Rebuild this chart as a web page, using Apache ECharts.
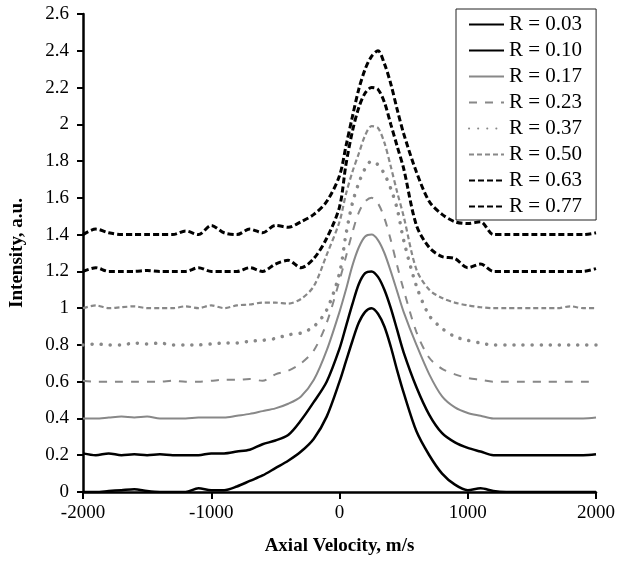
<!DOCTYPE html>
<html>
<head>
<meta charset="utf-8">
<script src="https://cdn.jsdelivr.net/npm/echarts@6/dist/echarts.min.js"></script>
<style>
  html, body { margin: 0; padding: 0; background: #fff; }
  #chart { width: 618px; height: 561px; }
</style>
</head>
<body>
<div id="chart"></div>
<script>
// axial velocity samples, m/s
const velocity = [-2000, -1900, -1800, -1700, -1600, -1500, -1400, -1300, -1200, -1100,
  -1000, -900, -800, -700, -600, -500, -400, -300, -200, -100,
  0, 50, 100, 150, 200, 250, 300, 350, 400, 450,
  500, 600, 700, 800, 900, 1000, 1100, 1200, 1300, 1400,
  1500, 1600, 1700, 1800, 1900, 2000];

const seriesNames = ["R = 0.03", "R = 0.10", "R = 0.17", "R = 0.23", "R = 0.37", "R = 0.50", "R = 0.63", "R = 0.77"];

// intensity, a.u.
const r003 = [0.00, 0.00, 0.005, 0.01, 0.015, 0.005, 0.00, 0.00, 0.00, 0.02,
  0.01, 0.01, 0.03, 0.06, 0.09, 0.13, 0.17, 0.22, 0.29, 0.41,
  0.60, 0.71, 0.82, 0.92, 0.98, 1.00, 0.97, 0.90, 0.79, 0.66,
  0.54, 0.33, 0.20, 0.10, 0.04, 0.01, 0.02, 0.005, 0.00, 0.00,
  0.00, 0.00, 0.00, 0.00, 0.00, 0.00];
const r010 = [0.21, 0.20, 0.21, 0.20, 0.205, 0.20, 0.205, 0.20, 0.20, 0.20,
  0.21, 0.21, 0.22, 0.23, 0.26, 0.28, 0.31, 0.39, 0.49, 0.60,
  0.78, 0.90, 1.02, 1.13, 1.19, 1.20, 1.17, 1.10, 1.00, 0.88,
  0.76, 0.57, 0.42, 0.32, 0.27, 0.24, 0.22, 0.20, 0.20, 0.20,
  0.20, 0.20, 0.20, 0.20, 0.20, 0.205];
const r017 = [0.40, 0.40, 0.405, 0.41, 0.405, 0.41, 0.40, 0.40, 0.40, 0.405,
  0.405, 0.405, 0.415, 0.425, 0.44, 0.455, 0.48, 0.52, 0.61, 0.77,
  0.98, 1.10, 1.23, 1.33, 1.39, 1.40, 1.37, 1.30, 1.20, 1.09,
  0.98, 0.80, 0.64, 0.52, 0.46, 0.43, 0.415, 0.40, 0.40, 0.40,
  0.40, 0.40, 0.40, 0.40, 0.40, 0.405];
const r023 = [0.605, 0.60, 0.60, 0.60, 0.60, 0.60, 0.60, 0.605, 0.60, 0.60,
  0.605, 0.61, 0.61, 0.615, 0.605, 0.64, 0.66, 0.70, 0.77, 0.92,
  1.15, 1.28, 1.41, 1.52, 1.58, 1.60, 1.57, 1.49, 1.37, 1.23,
  1.10, 0.87, 0.73, 0.67, 0.64, 0.62, 0.61, 0.60, 0.60, 0.60,
  0.60, 0.60, 0.60, 0.60, 0.60, 0.60];
const r037 = [0.80, 0.805, 0.80, 0.80, 0.81, 0.805, 0.81, 0.80, 0.80, 0.80,
  0.805, 0.81, 0.81, 0.82, 0.825, 0.835, 0.855, 0.865, 0.90, 0.99,
  1.19, 1.40, 1.57, 1.68, 1.76, 1.80, 1.78, 1.73, 1.65, 1.54,
  1.37, 1.12, 0.96, 0.89, 0.845, 0.825, 0.81, 0.80, 0.80, 0.80,
  0.80, 0.80, 0.80, 0.80, 0.80, 0.80];
const r050 = [1.00, 1.015, 1.00, 1.005, 1.01, 1.00, 1.00, 1.00, 1.01, 1.00,
  1.015, 1.00, 1.015, 1.02, 1.03, 1.03, 1.025, 1.05, 1.12, 1.29,
  1.47, 1.62, 1.74, 1.84, 1.94, 1.99, 1.98, 1.90, 1.77, 1.63,
  1.50, 1.21, 1.10, 1.055, 1.03, 1.015, 1.005, 1.00, 1.00, 1.00,
  1.00, 1.00, 1.00, 1.01, 1.00, 1.00];
const r063 = [1.20, 1.22, 1.20, 1.20, 1.20, 1.205, 1.20, 1.20, 1.20, 1.22,
  1.20, 1.20, 1.20, 1.22, 1.20, 1.24, 1.26, 1.22, 1.27, 1.38,
  1.55, 1.78, 1.96, 2.09, 2.17, 2.20, 2.19, 2.12, 2.00, 1.88,
  1.76, 1.45, 1.33, 1.28, 1.27, 1.22, 1.24, 1.20, 1.20, 1.20,
  1.20, 1.20, 1.20, 1.20, 1.20, 1.215];
const r077 = [1.40, 1.43, 1.41, 1.40, 1.40, 1.40, 1.40, 1.40, 1.42, 1.40,
  1.45, 1.41, 1.40, 1.43, 1.41, 1.45, 1.44, 1.47, 1.51, 1.58,
  1.72, 1.88, 2.04, 2.19, 2.30, 2.37, 2.40, 2.33, 2.22, 2.08,
  1.95, 1.74, 1.58, 1.51, 1.47, 1.46, 1.47, 1.40, 1.40, 1.40,
  1.40, 1.40, 1.40, 1.40, 1.40, 1.41];

const intensities = [r003, r010, r017, r023, r037, r050, r063, r077];

const GRAY = "#888888";
const lineStyles = [
  { color: "#000", width: 2.5, type: "solid" },
  { color: "#000", width: 2.5, type: "solid" },
  { color: GRAY, width: 2, type: "solid" },
  { color: GRAY, width: 2, type: [8, 8] },
  { color: GRAY, width: 3.5, type: [0.1, 9], cap: "round" },
  { color: GRAY, width: 2.2, type: [5, 3] },
  { color: "#000", width: 3, type: [6, 3] },
  { color: "#000", width: 3, type: [6, 3] }
];

const FONT = "'Liberation Serif', 'Times New Roman', serif";

const chart = echarts.init(document.getElementById("chart"));

chart.setOption({
  animation: false,
  grid: { left: 82, right: 21, top: 14, bottom: 67 },
  legend: {
    orient: "vertical",
    left: 456,
    top: 9,
    padding: [5, 14, 3, 12],
    itemWidth: 35,
    itemHeight: 14,
    itemGap: 5,
    itemStyle: { opacity: 0 },
    backgroundColor: "#fff",
    borderColor: "#222",
    borderWidth: 1,
    textStyle: { fontFamily: FONT, fontSize: 21, color: "#000", lineHeight: 19 },
    data: seriesNames
  },
  xAxis: {
    type: "value",
    min: -2000,
    max: 2000,
    interval: 1000,
    name: "Axial Velocity, m/s",
    nameLocation: "middle",
    nameGap: 45,
    nameTextStyle: { fontFamily: FONT, fontSize: 19, fontWeight: "bold", color: "#000" },
    axisLine: { onZero: false, lineStyle: { color: "#000", width: 2.5 } },
    axisTick: { show: true, length: 7, lineStyle: { color: "#000", width: 2 } },
    axisLabel: { fontFamily: FONT, fontSize: 19, color: "#000", margin: 12, formatter: (v) => String(v) },
    splitLine: { show: false }
  },
  yAxis: {
    type: "value",
    min: 0,
    max: 2.6,
    interval: 0.2,
    name: "Intensity, a.u.",
    nameLocation: "middle",
    nameGap: 56,
    nameTextStyle: { fontFamily: FONT, fontSize: 19, fontWeight: "bold", color: "#000" },
    axisLine: { show: true, onZero: false, lineStyle: { color: "#000", width: 2.5 } },
    axisTick: { show: true, length: 6, lineStyle: { color: "#000", width: 2 } },
    axisLabel: { fontFamily: FONT, fontSize: 19, color: "#000", margin: 14 },
    splitLine: { show: false }
  },
  series: seriesNames.map((name, i) => ({
    name,
    type: "line",
    symbol: "none",
    smooth: 0.3,
    lineStyle: lineStyles[i],
    itemStyle: { color: lineStyles[i].color },
    data: velocity.map((v, j) => [v, intensities[i][j]])
  }))
});
</script>
</body>
</html>
